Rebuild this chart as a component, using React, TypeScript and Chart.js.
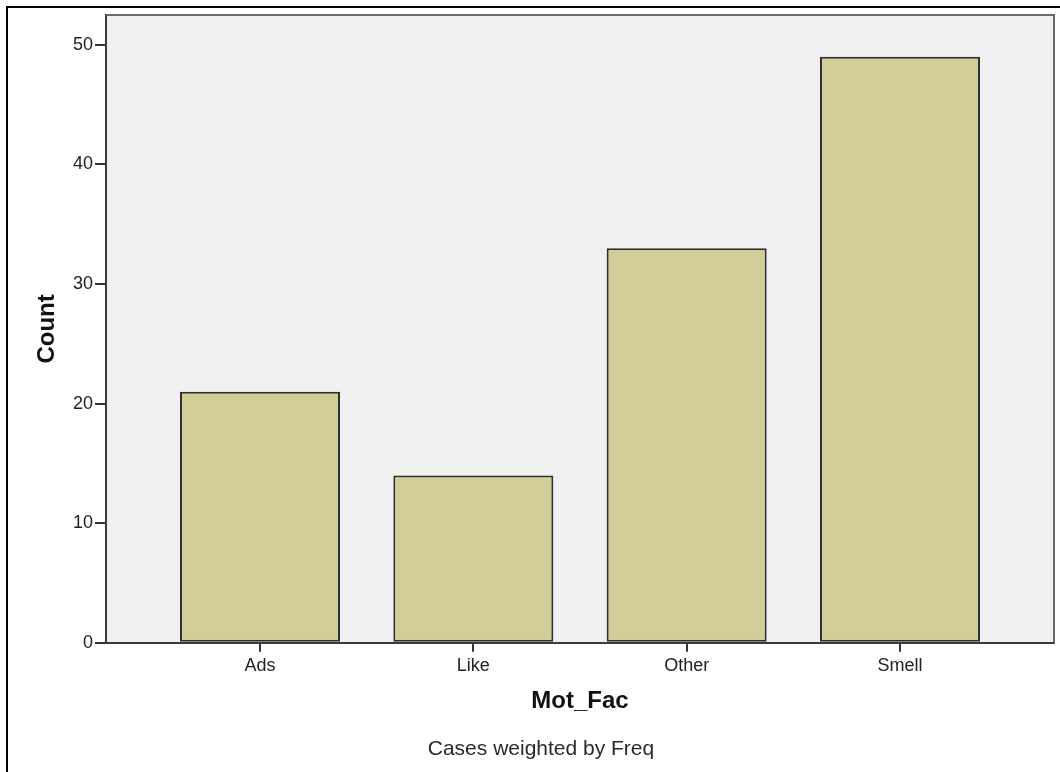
import React, { useEffect, useRef } from "react";
import { Chart, registerables } from "chart.js";

Chart.register(...registerables);

const categories: string[] = ["Ads", "Like", "Other", "Smell"];
const counts: number[] = [21, 14, 33, 49];
const yTicks: number[] = [0, 10, 20, 30, 40, 50];
const xTitle = "Mot_Fac";
const yTitle = "Count";
const footnote = "Cases weighted by Freq";

const FONT = "'Liberation Sans', Arial, sans-serif";

const framePlugin = {
  id: "frame",
  beforeDraw(chart: any) {
    const { ctx, chartArea } = chart;
    ctx.save();
    ctx.fillStyle = "#f0f0f0";
    ctx.fillRect(chartArea.left, chartArea.top, chartArea.right - chartArea.left, chartArea.bottom - chartArea.top);
    ctx.restore();
  },
  afterDraw(chart: any) {
    const { ctx, chartArea } = chart;
    ctx.save();
    ctx.strokeStyle = "#6a6a6a";
    ctx.lineWidth = 2;
    ctx.beginPath();
    ctx.moveTo(chartArea.left, chartArea.top);
    ctx.lineTo(chartArea.right, chartArea.top);
    ctx.lineTo(chartArea.right, chartArea.bottom);
    ctx.stroke();
    ctx.restore();
  },
};

export default function App() {
  const ref = useRef<HTMLCanvasElement | null>(null);

  useEffect(() => {
    if (!ref.current) return;
    const chart = new Chart(ref.current, {
      type: "bar",
      data: {
        datasets: [
          {
            data: counts.map((c, i) => ({ x: i, y: c })),
            backgroundColor: "#d3ce97",
            borderColor: "#2e2e2e",
            borderWidth: 2,
            borderSkipped: false,
            barPercentage: 0.75,
            categoryPercentage: 1,
          },
        ],
      },
      options: {
        responsive: false,
        animation: false,
        layout: { padding: { top: 15, right: 6, left: 28, bottom: 0 } },
        plugins: {
          legend: { display: false },
          tooltip: { enabled: false },
          title: {
            display: true,
            position: "bottom",
            text: footnote,
            color: "#2a2a2a",
            font: { family: FONT, size: 21, weight: "normal" },
            padding: { top: 0, bottom: 10 },
          },
        },
        scales: {
          x: {
            type: "linear",
            offset: false,
            min: -0.722,
            max: categories.length - 1 + 0.722,
            afterBuildTicks: (scale: any) => {
              scale.ticks = categories.map((_, i) => ({ value: i }));
            },
            afterFit: (scale: any) => {
              scale.height = 94;
            },
            ticks: {
              callback: (v: any) => categories[Number(v)] ?? "",
              color: "#222",
              font: { family: FONT, size: 18 },
              padding: 3,
              maxRotation: 0,
              autoSkip: false,
            },
            grid: { offset: false, drawOnChartArea: false, tickLength: 9, color: "#333", lineWidth: 2 },
            border: { display: true, color: "#3a3a3a", width: 2 },
            title: {
              display: true,
              text: xTitle,
              color: "#111",
              font: { family: FONT, size: 24, weight: "bold" },
              padding: { top: 0, bottom: 21 },
            },
          },
          y: {
            min: 0,
            max: 52.5,
            afterBuildTicks: (scale: any) => {
              scale.ticks = yTicks.map((v) => ({ value: v }));
            },
            afterFit: (scale: any) => {
              scale.width = 78;
            },
            ticks: {
              color: "#222",
              font: { family: FONT, size: 18 },
              padding: 2,
            },
            grid: { drawOnChartArea: false, tickLength: 11, color: "#333", lineWidth: 2 },
            border: { display: true, color: "#3a3a3a", width: 2 },
            title: {
              display: true,
              text: yTitle,
              color: "#111",
              font: { family: FONT, size: 24, weight: "bold" },
              padding: { top: 5, bottom: 0 },
            },
          },
        },
      },
      plugins: [framePlugin],
    });
    return () => chart.destroy();
  }, []);

  return (
    <div style={{ position: "absolute", left: 0, top: 0, width: 1060, height: 772, background: "#fff" }}>
      <canvas ref={ref} width={1060} height={772} style={{ position: "absolute", left: 0, top: 0 }} />
      <div
        style={{
          position: "absolute",
          left: 6,
          top: 6,
          width: 1054,
          height: 766,
          borderTop: "2px solid #000",
          borderLeft: "2px solid #000",
          boxSizing: "border-box",
          pointerEvents: "none",
        }}
      />
    </div>
  );
}
